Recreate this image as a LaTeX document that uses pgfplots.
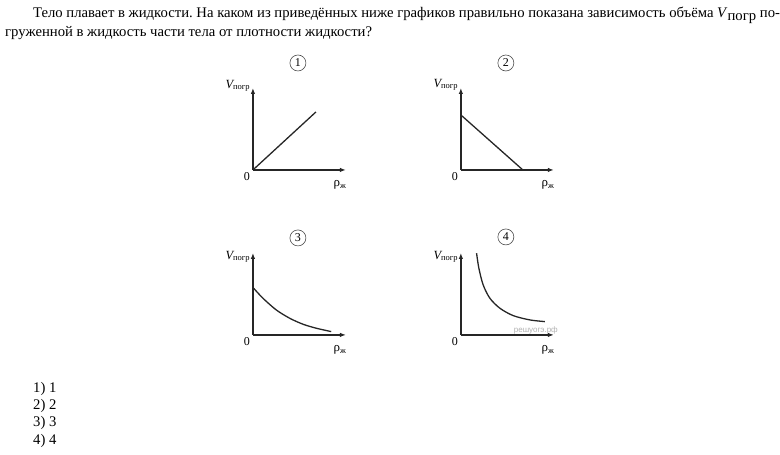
\documentclass[border=0pt]{standalone}
\usepackage{pgfplots}
\pgfplotsset{compat=1.18}
\usepackage{fontspec}
\setmainfont{Liberation Serif}
\setsansfont{Liberation Sans}
\usetikzlibrary{arrows.meta}
\frenchspacing
\pgfplotsset{mini/.style={
  scale only axis, width=93pt, height=82pt,
  xmin=0, xmax=93, ymin=0, ymax=82,
  enlargelimits=false, axis lines=left,
  axis line style={line width=1.4pt, black!85, -{Latex[length=6pt,width=4.5pt]}},
  ticks=none, anchor=south west, clip=false
}}
\tikzset{crv/.style={line width=1.3pt, black!85, no marks, smooth}}
\newcommand{\Vp}{{\fontsize{12.5}{12}\selectfont\itshape V}{\fontsize{8.5}{8}\selectfont\raisebox{-0.3ex}{погр}}}
\newcommand{\rz}{{\fontsize{13}{12}\selectfont ρ}{\fontsize{8.5}{8}\selectfont\raisebox{-0.4ex}{ж}}}
\begin{document}
\begin{tikzpicture}[x=1pt,y=1pt]
\path (0,0) rectangle (780,455);
% text
\node[anchor=base west, inner sep=0, font=\fontsize{14.7}{18}\selectfont] at (33,437) {Тело плавает в жидкости. На каком из приведённых ниже графиков правильно показана зависимость объёма \textit{V}\raisebox{-0.35ex}{погр} по-};
\node[anchor=base west, inner sep=0, font=\fontsize{14.7}{18}\selectfont] at (5,418) {груженной в жидкость части тела от плотности жидкости?};
\foreach \i/\y in {1/62,2/45,3/28,4/10}{
  \node[anchor=base west, inner sep=0, font=\fontsize{14.7}{18}\selectfont] at (33,\y) {\i) \i};
}
% graph 1
\begin{axis}[mini, at={(253pt,285pt)}]
\addplot[crv] coordinates {(0,0) (63,58)};
\end{axis}
% graph 2
\begin{axis}[mini, at={(461pt,285pt)}]
\addplot[crv] coordinates {(0,55) (62,0)};
\end{axis}
% graph 3
\begin{axis}[mini, at={(253pt,120pt)}]
\addplot[crv] coordinates {(0.7,46.7) (10,36.7) (23.3,25) (36.7,16.7) (50,10.7) (63.3,6.7) (78.3,3.3)};
\end{axis}
% graph 4
\begin{axis}[mini, at={(461pt,120pt)}]
\addplot[crv] coordinates {(15.7,81.7) (18,66.7) (22.3,50) (29,36.7) (39,26.7) (52.3,19.3) (69,15) (84,13.3)};
\end{axis}
% labels
\foreach \ox/\oy/\vy/\cy/\n in {253/285/369/392/1, 461/285/370/392/2, 253/120/198/217/3, 461/120/198/218/4}{
  \node[anchor=east, inner sep=0] at (\ox-3,\vy) {\Vp};
  \node[font=\fontsize{12}{12}\selectfont, inner sep=0] at (\ox-6,\oy-7) {0};
  \node[inner sep=0] at (\ox+87,\oy-15) {\rz};
  \node[circle, draw=black!70, line width=0.6pt, minimum size=16pt, inner sep=0, font=\fontsize{12}{12}\selectfont] at (\ox+45,\cy) {\n};
}
\node[text=black!30, font=\fontsize{8}{8}\selectfont\sffamily, inner sep=0] at (536,124) {решуогэ.рф};
\end{tikzpicture}
\end{document}
